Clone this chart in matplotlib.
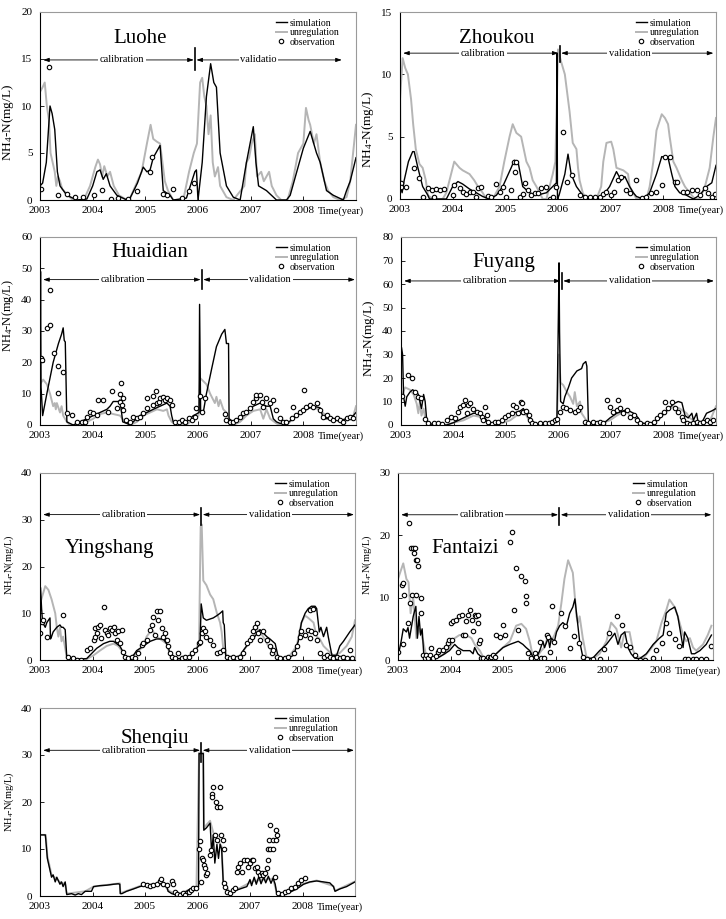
import numpy as np
import matplotlib
matplotlib.use("Agg")
import matplotlib.pyplot as plt

plt.rcParams["font.family"] = ["Liberation Serif", "DejaVu Serif"]
plt.rcParams["mathtext.default"] = "regular"

YEARS = [2003, 2004, 2005, 2006, 2007, 2008]

# ---- Luohe ----
luohe_sim = [(2003.0, 1.5), (2003.05, 1.8), (2003.12, 4.0), (2003.19, 10.0), (2003.23, 9.2), (2003.28, 7.5),
             (2003.33, 3.0), (2003.38, 1.5), (2003.51, 0.5), (2003.70, 0.0), (2003.89, 0.1), (2004.0, 1.5),
             (2004.08, 3.0), (2004.14, 3.2), (2004.2, 2.2), (2004.26, 2.8), (2004.33, 1.5), (2004.46, 0.5),
             (2004.65, 0.0), (2004.71, 0.2), (2004.85, 1.8), (2004.96, 3.5), (2005.03, 3.0), (2005.09, 3.2),
             (2005.15, 4.5), (2005.28, 5.8), (2005.34, 1.0), (2005.47, 0.5), (2005.53, 0.0), (2005.78, 0.2),
             (2005.94, 3.0), (2005.97, 3.2), (2006.0, 0.0), (2006.08, 4.0), (2006.16, 11.0), (2006.24, 14.5),
             (2006.3, 12.5), (2006.35, 12.0), (2006.42, 5.0), (2006.54, 1.5), (2006.67, 0.3), (2006.80, 0.0),
             (2006.92, 4.0), (2007.05, 7.8), (2007.1, 4.0), (2007.15, 1.5), (2007.30, 1.0), (2007.49, 0.0),
             (2007.68, 0.0), (2007.75, 0.5), (2007.9, 3.5), (2008.0, 5.5), (2008.13, 7.3), (2008.25, 5.0),
             (2008.32, 4.0), (2008.44, 1.0), (2008.57, 0.5), (2008.76, 0.0), (2008.82, 1.0), (2008.89, 2.0),
             (2009.0, 4.5)]
luohe_unreg = [(2003.0, 11.5), (2003.05, 12.0), (2003.09, 12.5), (2003.13, 10.0), (2003.17, 8.5), (2003.2, 5.0),
               (2003.28, 3.0), (2003.31, 1.5), (2003.34, 2.5), (2003.38, 2.0), (2003.42, 1.2), (2003.48, 0.8),
               (2003.62, 0.0), (2003.83, 0.0), (2003.95, 1.5), (2004.05, 3.5), (2004.1, 4.3), (2004.14, 3.8),
               (2004.18, 2.5), (2004.22, 3.6), (2004.28, 2.5), (2004.33, 3.0), (2004.4, 1.5), (2004.5, 0.5),
               (2004.65, 0.0), (2004.71, 0.2), (2004.85, 2.0), (2004.93, 3.0), (2005.03, 6.0), (2005.1, 8.0),
               (2005.15, 6.5), (2005.22, 6.2), (2005.28, 6.0), (2005.37, 2.0), (2005.43, 1.0), (2005.53, 0.0),
               (2005.72, 0.0), (2005.83, 3.0), (2005.92, 5.0), (2005.98, 6.0), (2006.04, 12.5), (2006.08, 13.0),
               (2006.12, 11.0), (2006.16, 10.0), (2006.2, 7.0), (2006.24, 9.0), (2006.28, 4.0), (2006.32, 2.5),
               (2006.38, 3.5), (2006.42, 1.5), (2006.54, 0.3), (2006.67, 0.0), (2006.88, 1.5), (2006.92, 4.0),
               (2006.97, 4.5), (2007.02, 6.0), (2007.08, 7.0), (2007.12, 2.5), (2007.2, 3.0), (2007.25, 2.0),
               (2007.35, 3.0), (2007.4, 1.5), (2007.49, 0.5), (2007.58, 0.0), (2007.7, 0.0), (2007.8, 2.0),
               (2007.9, 5.0), (2008.0, 6.0), (2008.05, 9.8), (2008.1, 8.5), (2008.13, 8.0), (2008.2, 6.0),
               (2008.25, 7.0), (2008.32, 4.0), (2008.4, 2.0), (2008.47, 1.0), (2008.57, 0.3), (2008.7, 0.0),
               (2008.82, 0.3), (2008.89, 2.0), (2009.0, 8.0)]
luohe_obs = [(2003.02, 1.2), (2003.18, 14.1), (2003.35, 0.5), (2003.51, 0.6), (2003.66, 0.3), (2003.82, 0.3),
             (2004.03, 0.5), (2004.17, 1.1), (2004.35, 0.1), (2004.49, 0.2), (2004.68, 0.1), (2004.84, 1.0),
             (2005.09, 3.0), (2005.12, 4.6), (2005.34, 0.6), (2005.41, 0.5), (2005.53, 1.2), (2005.69, 0.2),
             (2005.82, 1.0), (2005.93, 1.8)]

# ---- Zhoukou ----
zhoukou_sim = [(2003.0, 0.0), (2003.005, 11.5), (2003.01, 1.0), (2003.04, 0.5), (2003.08, 1.5), (2003.16, 3.0),
               (2003.24, 3.8), (2003.27, 3.8), (2003.34, 2.5), (2003.43, 1.0), (2003.53, 0.3), (2003.56, 0.0),
               (2003.88, 0.0), (2004.0, 1.0), (2004.10, 1.4), (2004.19, 1.2), (2004.32, 0.8), (2004.45, 0.5),
               (2004.57, 0.2), (2004.70, 0.0), (2004.83, 0.3), (2004.95, 1.0), (2005.11, 2.5), (2005.17, 3.1),
               (2005.24, 3.0), (2005.33, 1.0), (2005.46, 0.5), (2005.59, 0.3), (2005.78, 0.5), (2005.90, 1.0),
               (2005.97, 1.3), (2005.98, 11.7), (2005.99, 0.0), (2006.02, 0.3), (2006.13, 2.0), (2006.19, 3.6),
               (2006.25, 2.0), (2006.35, 1.0), (2006.47, 0.3), (2006.60, 0.1), (2006.73, 0.0), (2006.86, 0.3),
               (2006.98, 1.0), (2007.11, 2.2), (2007.20, 1.5), (2007.27, 1.8), (2007.36, 1.0), (2007.43, 0.5),
               (2007.49, 0.2), (2007.62, 0.0), (2007.74, 0.5), (2007.87, 2.0), (2007.97, 3.4), (2008.09, 3.3),
               (2008.16, 2.0), (2008.22, 1.0), (2008.31, 0.5), (2008.44, 0.3), (2008.57, 0.0), (2008.69, 0.3),
               (2008.82, 1.0), (2008.92, 1.3), (2009.0, 2.7)]
zhoukou_unreg = [(2003.0, 8.0), (2003.05, 11.3), (2003.1, 10.5), (2003.15, 10.0), (2003.21, 8.0), (2003.25, 6.0),
                 (2003.30, 4.0), (2003.37, 2.8), (2003.43, 2.5), (2003.49, 1.5), (2003.53, 0.3), (2003.62, 0.0),
                 (2003.81, 0.0), (2003.88, 0.5), (2003.97, 2.0), (2004.03, 3.0), (2004.13, 2.5), (2004.19, 2.3),
                 (2004.32, 2.0), (2004.41, 1.5), (2004.48, 1.0), (2004.57, 0.5), (2004.64, 0.0), (2004.76, 0.0),
                 (2004.89, 1.0), (2004.98, 3.0), (2005.08, 5.0), (2005.14, 6.0), (2005.21, 5.3), (2005.30, 5.0),
                 (2005.40, 3.0), (2005.46, 2.5), (2005.52, 1.5), (2005.59, 1.0), (2005.65, 0.5), (2005.71, 0.0),
                 (2005.78, 0.0), (2005.84, 1.0), (2005.90, 2.0), (2005.95, 3.0), (2006.0, 12.0), (2006.06, 11.0),
                 (2006.13, 10.0), (2006.19, 8.0), (2006.22, 7.0), (2006.28, 4.5), (2006.35, 4.0), (2006.38, 2.5),
                 (2006.41, 1.5), (2006.47, 0.5), (2006.54, 0.0), (2006.73, 0.0), (2006.82, 1.0), (2006.86, 3.0),
                 (2006.92, 4.5), (2007.01, 4.6), (2007.05, 4.0), (2007.11, 2.5), (2007.24, 2.3), (2007.33, 2.0),
                 (2007.36, 1.0), (2007.43, 0.5), (2007.49, 0.0), (2007.68, 0.0), (2007.74, 1.0), (2007.81, 3.0),
                 (2007.87, 5.5), (2007.97, 6.8), (2008.03, 6.5), (2008.09, 6.0), (2008.12, 5.0), (2008.19, 3.0),
                 (2008.25, 2.5), (2008.35, 1.5), (2008.41, 1.0), (2008.50, 0.5), (2008.60, 0.0), (2008.69, 0.0),
                 (2008.79, 1.0), (2008.88, 2.5), (2008.95, 5.0), (2009.0, 6.5)]
zhoukou_obs = [(2003.01, 1.3), (2003.02, 1.0), (2003.11, 1.0), (2003.27, 2.5), (2003.36, 1.7), (2003.43, 0.2),
               (2003.53, 0.9), (2003.61, 0.7), (2003.65, 0.2), (2003.68, 0.8), (2003.76, 0.75), (2003.84, 0.8),
               (2004.0, 0.35), (2004.03, 1.15), (2004.13, 0.9), (2004.19, 0.55), (2004.26, 0.4), (2004.32, 0.6),
               (2004.38, 0.55), (2004.45, 0.2), (2004.48, 0.9), (2004.54, 1.0), (2004.67, 0.25), (2004.73, 0.2),
               (2004.83, 1.2), (2004.89, 0.6), (2004.95, 1.0), (2005.02, 0.2), (2005.11, 0.75), (2005.16, 3.0),
               (2005.18, 2.2), (2005.21, 3.0), (2005.27, 0.2), (2005.33, 0.4), (2005.38, 1.3), (2005.43, 0.75),
               (2005.49, 0.35), (2005.56, 0.5), (2005.62, 0.5), (2005.68, 0.9), (2005.78, 0.95), (2005.84, 0.0),
               (2005.90, 0.2), (2005.96, 1.0), (2006.09, 5.4), (2006.18, 1.4), (2006.27, 1.9), (2006.41, 0.35),
               (2006.51, 0.2), (2006.60, 0.2), (2006.70, 0.2), (2006.79, 0.2), (2006.86, 0.4), (2006.92, 0.6),
               (2007.0, 0.35), (2007.06, 0.55), (2007.13, 1.5), (2007.19, 1.8), (2007.30, 0.75), (2007.36, 0.5),
               (2007.49, 1.55), (2007.60, 0.1), (2007.68, 0.2), (2007.77, 0.5), (2007.87, 0.6), (2007.97, 1.15),
               (2008.03, 3.4), (2008.12, 3.4), (2008.22, 1.4), (2008.26, 1.4), (2008.38, 0.6), (2008.44, 0.6),
               (2008.54, 0.7), (2008.63, 0.7), (2008.69, 0.35), (2008.79, 0.9), (2008.85, 0.5), (2008.92, 0.2),
               (2008.98, 0.4)]

# ---- Huaidian ----
huaidian_sim = [(2003.0, 10.0), (2003.01, 49.0), (2003.02, 12.0), (2003.05, 3.0), (2003.13, 10.0), (2003.25, 20.0),
                (2003.35, 26.0), (2003.41, 29.0), (2003.44, 31.0), (2003.46, 27.0), (2003.48, 26.5), (2003.51, 1.0),
                (2003.57, 0.5), (2003.63, 0.0), (2003.76, 1.0), (2003.89, 2.0), (2004.01, 3.0), (2004.14, 4.0),
                (2004.27, 5.0), (2004.33, 6.0), (2004.39, 7.5), (2004.49, 7.5), (2004.52, 8.0), (2004.57, 1.0),
                (2004.65, 0.5), (2004.71, 0.0), (2004.77, 1.0), (2004.90, 3.0), (2005.03, 4.0), (2005.15, 5.0),
                (2005.28, 6.0), (2005.41, 7.0), (2005.47, 6.0), (2005.50, 3.0), (2005.53, 1.0), (2005.66, 0.5),
                (2005.78, 1.0), (2005.85, 2.0), (2005.91, 3.0), (2005.97, 3.5), (2006.02, 4.0), (2006.03, 38.5),
                (2006.05, 4.0), (2006.10, 4.0), (2006.16, 10.0), (2006.26, 18.0), (2006.35, 25.0), (2006.45, 29.0),
                (2006.51, 30.5), (2006.54, 26.0), (2006.58, 26.0), (2006.59, 2.0), (2006.67, 1.0), (2006.80, 2.0),
                (2006.92, 4.0), (2007.05, 6.0), (2007.18, 7.0), (2007.30, 6.0), (2007.37, 6.0), (2007.43, 2.0),
                (2007.49, 1.0), (2007.56, 0.5), (2007.68, 0.5), (2007.81, 2.0), (2007.94, 4.0), (2008.06, 5.0),
                (2008.19, 6.0), (2008.32, 5.5), (2008.38, 2.0), (2008.57, 2.0), (2008.70, 1.5), (2008.82, 2.0),
                (2008.95, 3.0), (2009.0, 4.0)]
huaidian_unreg = [(2003.0, 13.0), (2003.06, 14.5), (2003.13, 13.0), (2003.19, 10.0), (2003.25, 6.0), (2003.28, 7.0),
                  (2003.30, 5.0), (2003.32, 7.0), (2003.38, 4.0), (2003.41, 6.0), (2003.44, 3.0), (2003.51, 1.0),
                  (2003.57, 0.0), (2003.70, 0.0), (2003.89, 1.0), (2004.01, 2.0), (2004.14, 3.5), (2004.27, 4.0),
                  (2004.39, 3.5), (2004.52, 3.0), (2004.61, 1.0), (2004.71, 0.0), (2004.84, 1.0), (2004.96, 3.0),
                  (2005.09, 4.0), (2005.22, 5.0), (2005.34, 4.5), (2005.41, 5.0), (2005.44, 3.0), (2005.50, 1.0),
                  (2005.59, 0.0), (2005.78, 0.0), (2005.85, 1.0), (2005.91, 2.0), (2006.01, 3.0), (2006.04, 15.0),
                  (2006.10, 14.0), (2006.16, 13.0), (2006.23, 10.0), (2006.29, 8.0), (2006.32, 7.0), (2006.35, 9.0),
                  (2006.39, 6.0), (2006.42, 8.0), (2006.48, 5.0), (2006.54, 4.0), (2006.61, 1.0), (2006.67, 0.0),
                  (2006.80, 1.0), (2006.92, 3.0), (2007.05, 4.5), (2007.18, 5.0), (2007.24, 2.0), (2007.30, 5.0),
                  (2007.37, 2.0), (2007.49, 0.5), (2007.56, 0.0), (2007.68, 0.0), (2007.81, 2.0), (2007.94, 4.0),
                  (2008.06, 5.0), (2008.19, 6.0), (2008.32, 4.5), (2008.44, 3.0), (2008.57, 2.0), (2008.70, 1.0),
                  (2008.82, 1.5), (2008.95, 3.0), (2009.0, 6.0)]
huaidian_obs = [(2003.01, 21.3), (2003.03, 20.6), (2003.13, 30.9), (2003.19, 32.0), (2003.19, 43.2), (2003.27, 23.1),
                (2003.35, 18.7), (2003.35, 10.1), (2003.44, 16.8), (2003.51, 3.7), (2003.60, 3.2), (2003.70, 1.0),
                (2003.79, 1.0), (2003.85, 1.0), (2003.89, 2.7), (2003.95, 4.3), (2004.01, 3.7), (2004.08, 3.2),
                (2004.11, 8.0), (2004.20, 8.0), (2004.30, 4.3), (2004.36, 11.0), (2004.46, 5.5), (2004.52, 7.5),
                (2004.52, 10.0), (2004.53, 13.3), (2004.55, 6.4), (2004.58, 8.5), (2004.58, 4.8), (2004.63, 1.6),
                (2004.71, 1.0), (2004.77, 2.7), (2004.84, 2.1), (2004.90, 2.7), (2004.96, 3.7), (2005.03, 5.3),
                (2005.03, 8.7), (2005.15, 9.3), (2005.20, 11.0), (2005.15, 6.4), (2005.22, 7.0), (2005.25, 7.5),
                (2005.28, 8.5), (2005.34, 9.0), (2005.37, 8.0), (2005.41, 8.5), (2005.47, 8.0), (2005.50, 6.4),
                (2005.56, 1.0), (2005.63, 1.0), (2005.69, 1.6), (2005.75, 1.0), (2005.82, 2.1), (2005.88, 1.6),
                (2005.94, 2.7), (2005.97, 5.3), (2006.03, 9.3), (2006.07, 4.3), (2006.13, 8.5), (2006.51, 3.5),
                (2006.54, 1.6), (2006.61, 1.0), (2006.67, 1.0), (2006.73, 1.6), (2006.80, 2.7), (2006.86, 3.7),
                (2006.92, 4.3), (2006.99, 5.3), (2007.05, 7.5), (2007.11, 8.5), (2007.11, 9.6), (2007.18, 9.6),
                (2007.21, 7.5), (2007.24, 5.9), (2007.30, 8.5), (2007.37, 7.0), (2007.43, 8.0), (2007.49, 4.8),
                (2007.56, 2.1), (2007.62, 1.0), (2007.68, 1.0), (2007.78, 2.1), (2007.81, 5.9), (2007.87, 3.2),
                (2007.94, 4.3), (2008.0, 4.8), (2008.01, 11.2), (2008.06, 5.9), (2008.13, 6.4), (2008.19, 5.9),
                (2008.25, 7.0), (2008.32, 4.8), (2008.38, 2.7), (2008.44, 3.2), (2008.51, 2.1), (2008.57, 1.6),
                (2008.63, 2.1), (2008.70, 1.6), (2008.76, 1.0), (2008.82, 2.1), (2008.89, 2.7), (2008.95, 2.1)]

# ---- Fuyang ----
fuyang_sim = [(2003.0, 30.0), (2003.01, 33.0), (2003.03, 30.0), (2003.05, 12.0), (2003.08, 8.0), (2003.11, 12.0),
              (2003.17, 14.0), (2003.22, 15.0), (2003.30, 14.0), (2003.33, 13.0), (2003.36, 10.0), (2003.39, 7.0),
              (2003.43, 13.0), (2003.46, 10.0), (2003.49, 2.0), (2003.55, 0.5), (2003.68, 0.0), (2003.87, 0.0),
              (2004.0, 1.0), (2004.19, 3.0), (2004.38, 5.0), (2004.50, 5.0), (2004.60, 3.0), (2004.66, 1.0),
              (2004.70, 0.0), (2004.82, 0.0), (2004.89, 1.0), (2005.01, 3.0), (2005.14, 5.0), (2005.27, 6.0),
              (2005.33, 7.0), (2005.39, 5.0), (2005.49, 1.0), (2005.58, 0.0), (2005.84, 0.0), (2005.90, 1.0),
              (2005.97, 2.0), (2006.0, 50.0), (2006.01, 69.0), (2006.02, 40.0), (2006.04, 10.0), (2006.09, 9.0),
              (2006.12, 12.0), (2006.19, 16.0), (2006.25, 20.0), (2006.35, 23.0), (2006.44, 24.0), (2006.47, 26.0),
              (2006.52, 27.0), (2006.54, 25.0), (2006.57, 1.0), (2006.66, 0.5), (2006.85, 0.5), (2006.98, 3.0),
              (2007.11, 5.0), (2007.23, 6.0), (2007.30, 6.5), (2007.43, 5.0), (2007.52, 3.0), (2007.55, 1.0),
              (2007.68, 0.5), (2007.81, 1.0), (2007.93, 3.0), (2008.06, 6.0), (2008.19, 9.0), (2008.28, 10.0),
              (2008.35, 9.5), (2008.41, 4.0), (2008.47, 3.0), (2008.54, 5.0), (2008.57, 2.0), (2008.63, 5.0),
              (2008.66, 1.0), (2008.73, 1.0), (2008.82, 5.0), (2008.92, 6.0), (2009.0, 7.0)]
fuyang_unreg = [(2003.0, 12.0), (2003.08, 16.0), (2003.17, 15.0), (2003.24, 13.0), (2003.30, 9.0), (2003.33, 5.0),
                (2003.36, 10.0), (2003.39, 4.0), (2003.43, 7.0), (2003.46, 3.0), (2003.52, 1.0), (2003.62, 0.0),
                (2003.87, 0.0), (2004.0, 1.0), (2004.19, 2.0), (2004.38, 4.0), (2004.50, 3.5), (2004.60, 2.0),
                (2004.70, 0.5), (2004.76, 0.0), (2004.82, 0.0), (2004.95, 1.0), (2005.08, 2.0), (2005.20, 4.0),
                (2005.33, 5.0), (2005.39, 4.0), (2005.46, 1.0), (2005.52, 0.0), (2005.84, 0.0), (2005.90, 1.0),
                (2005.97, 2.0), (2006.01, 30.0), (2006.04, 18.0), (2006.09, 17.0), (2006.16, 14.0), (2006.22, 12.0),
                (2006.28, 9.0), (2006.31, 14.0), (2006.35, 8.0), (2006.41, 10.0), (2006.44, 5.0), (2006.50, 3.0),
                (2006.57, 0.5), (2006.73, 0.0), (2006.98, 2.0), (2007.11, 4.0), (2007.23, 5.5), (2007.30, 6.0),
                (2007.36, 4.0), (2007.46, 3.0), (2007.52, 1.0), (2007.68, 0.5), (2007.81, 1.0), (2007.93, 3.0),
                (2008.06, 6.0), (2008.19, 8.0), (2008.31, 7.0), (2008.44, 5.0), (2008.50, 3.0), (2008.63, 1.0),
                (2008.89, 2.0), (2009.0, 8.0)]
fuyang_obs = [(2003.01, 12.3), (2003.14, 21.2), (2003.20, 19.8), (2003.27, 14.2), (2003.33, 12.0), (2003.39, 11.3),
              (2003.46, 2.5), (2003.52, 0.7), (2003.62, 1.0), (2003.71, 0.7), (2003.79, 0.4), (2003.87, 2.1),
              (2003.95, 3.3), (2004.03, 2.8), (2004.09, 5.7), (2004.12, 7.8), (2004.19, 8.5), (2004.22, 10.6),
              (2004.25, 5.0), (2004.28, 8.5), (2004.31, 9.2), (2004.38, 7.0), (2004.44, 5.7), (2004.50, 5.0),
              (2004.54, 3.5), (2004.57, 2.1), (2004.60, 7.8), (2004.63, 4.2), (2004.66, 1.4), (2004.73, 0.4),
              (2004.79, 1.4), (2004.85, 1.4), (2004.92, 2.1), (2004.98, 3.5), (2005.04, 4.2), (2005.11, 5.0),
              (2005.14, 8.5), (2005.19, 7.8), (2005.23, 5.0), (2005.29, 9.9), (2005.30, 9.2), (2005.33, 5.7),
              (2005.39, 6.1), (2005.43, 4.2), (2005.46, 2.1), (2005.49, 1.0), (2005.55, 0.4), (2005.65, 0.7),
              (2005.74, 0.7), (2005.81, 1.0), (2005.87, 1.4), (2005.93, 2.1), (2005.98, 2.5), (2006.03, 5.7),
              (2006.09, 7.8), (2006.14, 7.1), (2006.22, 6.4), (2006.31, 5.7), (2006.38, 6.4), (2006.41, 7.8),
              (2006.50, 1.4), (2006.57, 0.7), (2006.66, 1.4), (2006.73, 1.0), (2006.79, 1.4), (2006.85, 1.0),
              (2006.92, 10.5), (2006.98, 7.8), (2007.04, 5.7), (2007.11, 6.4), (2007.14, 10.6), (2007.17, 7.1),
              (2007.23, 5.0), (2007.30, 6.4), (2007.36, 3.5), (2007.43, 4.2), (2007.49, 2.1), (2007.55, 1.0),
              (2007.68, 0.7), (2007.74, 0.4), (2007.81, 1.4), (2007.87, 2.8), (2007.93, 4.2), (2008.0, 5.7),
              (2008.03, 9.9), (2008.09, 7.1), (2008.16, 9.9), (2008.22, 7.1), (2008.28, 5.7), (2008.35, 3.5),
              (2008.38, 2.1), (2008.44, 0.7), (2008.50, 0.4), (2008.57, 1.0), (2008.63, 1.4), (2008.70, 0.7),
              (2008.76, 1.4), (2008.82, 2.1), (2008.89, 1.4), (2008.95, 2.1)]

# ---- Yingshang ----
yingshang_sim = [(2003.0, 9.0), (2003.01, 15.5), (2003.03, 11.0), (2003.05, 8.0), (2003.10, 7.0), (2003.13, 8.0),
                 (2003.19, 9.0), (2003.2, 4.5), (2003.22, 5.0), (2003.25, 6.0), (2003.32, 7.0), (2003.38, 7.5),
                 (2003.41, 7.0), (2003.44, 7.0), (2003.48, 6.5), (2003.51, 0.5), (2003.57, 0.3), (2003.76, 0.2),
                 (2003.89, 0.3), (2003.95, 1.0), (2004.08, 2.5), (2004.21, 3.5), (2004.33, 4.0), (2004.40, 4.0),
                 (2004.46, 3.5), (2004.52, 3.0), (2004.57, 2.0), (2004.62, 0.5), (2004.71, 0.5), (2004.78, 1.0),
                 (2004.84, 2.0), (2004.97, 3.0), (2005.10, 4.0), (2005.22, 4.5), (2005.35, 4.5), (2005.44, 3.0),
                 (2005.48, 1.0), (2005.54, 0.3), (2005.73, 0.3), (2005.86, 1.0), (2005.95, 2.0), (2006.02, 3.0),
                 (2006.05, 4.0), (2006.07, 12.0), (2006.11, 9.0), (2006.17, 8.5), (2006.30, 9.0), (2006.37, 9.5),
                 (2006.43, 10.0), (2006.48, 10.5), (2006.49, 8.0), (2006.51, 7.5), (2006.54, 0.5), (2006.68, 0.3),
                 (2006.81, 0.5), (2006.87, 2.0), (2007.0, 4.0), (2007.13, 5.5), (2007.19, 6.5), (2007.32, 5.0),
                 (2007.38, 4.5), (2007.48, 3.5), (2007.54, 0.5), (2007.70, 0.3), (2007.83, 1.0), (2007.92, 4.0),
                 (2007.98, 8.0), (2008.05, 10.0), (2008.11, 11.0), (2008.17, 11.5), (2008.24, 11.5), (2008.27, 11.0),
                 (2008.32, 6.0), (2008.35, 7.0), (2008.40, 5.0), (2008.46, 7.0), (2008.49, 5.0), (2008.56, 1.0),
                 (2008.65, 1.0), (2008.71, 3.0), (2008.78, 4.0), (2008.84, 5.0), (2008.90, 6.0), (2009.0, 7.5)]
yingshang_unreg = [(2003.0, 12.0), (2003.10, 15.8), (2003.16, 15.0), (2003.22, 13.0), (2003.29, 10.0), (2003.32, 7.0),
                   (2003.35, 5.0), (2003.38, 7.0), (2003.41, 4.0), (2003.44, 5.0), (2003.48, 2.5), (2003.51, 0.5),
                   (2003.63, 0.2), (2003.89, 0.2), (2004.02, 1.0), (2004.14, 2.0), (2004.27, 3.0), (2004.40, 3.5),
                   (2004.49, 3.0), (2004.59, 1.5), (2004.65, 0.5), (2004.71, 0.5), (2004.84, 1.5), (2004.97, 3.0),
                   (2005.03, 5.0), (2005.13, 6.5), (2005.22, 5.0), (2005.35, 4.0), (2005.41, 3.5), (2005.48, 1.0),
                   (2005.54, 0.0), (2005.79, 0.3), (2005.89, 1.0), (2005.98, 2.5), (2006.03, 4.0), (2006.06, 28.5),
                   (2006.08, 29.0), (2006.11, 17.0), (2006.17, 16.0), (2006.24, 14.0), (2006.30, 13.0), (2006.37, 10.0),
                   (2006.43, 8.0), (2006.46, 6.0), (2006.49, 2.5), (2006.56, 0.5), (2006.68, 0.3), (2006.81, 1.0),
                   (2006.94, 3.0), (2007.06, 5.0), (2007.16, 6.5), (2007.25, 5.0), (2007.35, 3.0), (2007.44, 1.5),
                   (2007.54, 0.5), (2007.63, 0.3), (2007.76, 1.0), (2007.89, 3.0), (2007.98, 8.0), (2008.05, 9.5),
                   (2008.11, 9.0), (2008.21, 8.0), (2008.27, 5.0), (2008.33, 4.5), (2008.40, 3.0), (2008.49, 2.0),
                   (2008.59, 1.0), (2008.71, 1.5), (2008.84, 3.0), (2008.94, 5.0), (2009.0, 8.5)]
yingshang_obs = [(2003.0, 5.7), (2003.03, 8.2), (2003.05, 8.6), (2003.13, 5.0), (2003.44, 9.6), (2003.54, 0.7),
                 (2003.63, 0.4), (2003.71, 0.1), (2003.79, 0.1), (2003.89, 2.1), (2003.95, 2.5), (2004.02, 4.3),
                 (2004.05, 5.0), (2004.05, 6.8), (2004.08, 5.7), (2004.11, 7.1), (2004.14, 7.5), (2004.17, 4.6),
                 (2004.21, 11.4), (2004.24, 6.4), (2004.27, 5.7), (2004.30, 5.4), (2004.33, 6.8), (2004.37, 6.4),
                 (2004.40, 7.1), (2004.43, 5.7), (2004.46, 4.3), (2004.49, 6.1), (2004.52, 3.6), (2004.56, 6.4),
                 (2004.59, 1.8), (2004.62, 0.7), (2004.68, 0.4), (2004.75, 0.7), (2004.81, 0.4), (2004.87, 1.4),
                 (2004.94, 3.2), (2004.97, 3.6), (2005.03, 4.3), (2005.10, 6.4), (2005.13, 7.5), (2005.16, 9.3),
                 (2005.19, 5.4), (2005.22, 10.4), (2005.25, 8.6), (2005.29, 10.4), (2005.32, 6.8), (2005.35, 5.0),
                 (2005.38, 5.7), (2005.41, 4.3), (2005.44, 2.9), (2005.48, 1.4), (2005.51, 0.7), (2005.57, 0.4),
                 (2005.63, 1.4), (2005.70, 0.4), (2005.76, 0.7), (2005.83, 0.7), (2005.89, 1.4), (2005.95, 2.1),
                 (2006.02, 3.6), (2006.05, 3.9), (2006.08, 5.7), (2006.11, 6.8), (2006.14, 6.1), (2006.17, 5.0),
                 (2006.24, 4.3), (2006.30, 3.2), (2006.37, 1.4), (2006.43, 1.8), (2006.49, 2.1), (2006.56, 0.7),
                 (2006.62, 0.4), (2006.68, 0.7), (2006.75, 0.4), (2006.81, 0.7), (2006.87, 1.4), (2006.94, 3.6),
                 (2007.0, 4.3), (2007.03, 5.0), (2007.06, 6.1), (2007.10, 7.1), (2007.13, 7.9), (2007.16, 5.7),
                 (2007.19, 4.3), (2007.25, 6.1), (2007.32, 4.3), (2007.38, 2.9), (2007.41, 1.4), (2007.44, 2.1),
                 (2007.51, 0.7), (2007.57, 0.4), (2007.67, 0.4), (2007.73, 0.7), (2007.83, 1.4), (2007.89, 2.9),
                 (2007.95, 5.0), (2007.98, 6.1), (2008.05, 5.4), (2008.11, 6.4), (2008.14, 4.6), (2008.17, 6.1),
                 (2008.14, 10.7), (2008.20, 11.0), (2008.24, 5.7), (2008.27, 4.3), (2008.33, 1.4), (2008.40, 0.7),
                 (2008.46, 1.1), (2008.52, 0.7), (2008.59, 0.4), (2008.65, 0.7), (2008.71, 0.4), (2008.78, 0.7),
                 (2008.84, 0.4), (2008.90, 2.1), (2008.94, 0.4)]

# ---- Fantaizi ----
fantaizi_sim = [(2003.0, 0.5), (2003.06, 3.0), (2003.10, 5.0), (2003.16, 4.5), (2003.19, 5.2), (2003.22, 3.5),
                (2003.29, 7.0), (2003.34, 8.6), (2003.37, 3.5), (2003.40, 7.0), (2003.43, 4.0), (2003.46, 5.0),
                (2003.49, 1.0), (2003.54, 0.3), (2003.60, 0.3), (2003.70, 0.3), (2003.79, 0.5), (2003.89, 1.0),
                (2003.98, 1.5), (2004.08, 2.5), (2004.14, 2.0), (2004.24, 1.5), (2004.37, 1.5), (2004.43, 1.0),
                (2004.46, 2.0), (2004.52, 1.0), (2004.59, 0.5), (2004.65, 0.2), (2004.75, 0.3), (2004.87, 1.0),
                (2005.0, 2.0), (2005.13, 2.5), (2005.29, 3.0), (2005.38, 2.5), (2005.44, 2.0), (2005.51, 1.5),
                (2005.57, 0.5), (2005.63, 0.3), (2005.70, 1.5), (2005.76, 3.0), (2005.79, 2.0), (2005.86, 3.5),
                (2005.89, 2.0), (2005.92, 3.5), (2005.98, 3.0), (2006.02, 4.5), (2006.08, 5.5), (2006.14, 6.0),
                (2006.21, 5.5), (2006.27, 7.5), (2006.33, 8.5), (2006.37, 9.8), (2006.40, 7.5), (2006.46, 3.0),
                (2006.52, 0.5), (2006.59, 0.2), (2006.71, 0.3), (2006.84, 1.5), (2006.97, 2.5), (2007.06, 3.5),
                (2007.13, 4.3), (2007.19, 2.5), (2007.25, 4.0), (2007.32, 4.5), (2007.38, 2.0), (2007.44, 1.0),
                (2007.51, 0.3), (2007.60, 0.2), (2007.73, 1.0), (2007.86, 2.5), (2007.98, 3.5), (2008.05, 4.0),
                (2008.11, 7.5), (2008.17, 8.0), (2008.27, 8.5), (2008.33, 7.0), (2008.40, 3.5), (2008.43, 2.0),
                (2008.46, 4.5), (2008.52, 3.5), (2008.59, 1.0), (2008.65, 1.0), (2008.75, 1.5), (2008.87, 2.5),
                (2008.97, 4.0)]
fantaizi_unreg = [(2003.0, 13.0), (2003.10, 15.5), (2003.16, 13.0), (2003.20, 12.5), (2003.24, 7.5), (2003.29, 10.0),
                  (2003.35, 3.5), (2003.41, 5.0), (2003.48, 3.0), (2003.54, 0.5), (2003.67, 0.3), (2003.79, 0.5),
                  (2003.89, 1.0), (2003.98, 2.0), (2004.08, 3.5), (2004.17, 4.0), (2004.30, 4.0), (2004.40, 3.5),
                  (2004.46, 2.5), (2004.56, 1.5), (2004.62, 0.5), (2004.75, 0.2), (2004.87, 1.0), (2005.0, 2.0),
                  (2005.13, 3.0), (2005.25, 5.5), (2005.35, 5.8), (2005.44, 5.0), (2005.51, 3.0), (2005.57, 0.5),
                  (2005.63, 0.3), (2005.73, 1.5), (2005.79, 2.0), (2005.86, 4.0), (2005.92, 3.0), (2005.98, 4.0),
                  (2006.05, 5.5), (2006.11, 9.0), (2006.17, 13.0), (2006.24, 16.0), (2006.33, 14.0), (2006.40, 7.0),
                  (2006.43, 6.0), (2006.46, 7.0), (2006.52, 3.5), (2006.59, 0.5), (2006.71, 0.2), (2006.84, 1.0),
                  (2006.97, 3.0), (2007.06, 6.0), (2007.16, 5.0), (2007.22, 3.0), (2007.25, 2.0), (2007.32, 4.5),
                  (2007.41, 4.5), (2007.48, 1.5), (2007.54, 0.5), (2007.67, 0.3), (2007.79, 1.5), (2007.92, 3.0),
                  (2008.02, 6.0), (2008.11, 8.0), (2008.17, 9.7), (2008.27, 8.5), (2008.33, 7.0), (2008.43, 4.0),
                  (2008.49, 3.0), (2008.56, 3.5), (2008.62, 2.0), (2008.68, 1.5), (2008.81, 2.5), (2008.90, 4.0),
                  (2008.97, 5.5)]
fantaizi_obs = [(2003.0, 1.3), (2003.08, 12.1), (2003.10, 12.4), (2003.11, 10.4), (2003.09, 2.6), (2003.19, 6.0),
                (2003.20, 22.0), (2003.23, 9.2), (2003.25, 18.0), (2003.27, 10.4), (2003.29, 18.0), (2003.30, 17.1),
                (2003.32, 18.0), (2003.34, 16.0), (2003.35, 10.4), (2003.36, 16.0), (2003.38, 15.1), (2003.43, 7.5),
                (2003.44, 10.0), (2003.47, 0.8), (2003.51, 0.3), (2003.54, 0.8), (2003.57, 0.3), (2003.60, 0.8),
                (2003.63, 1.9), (2003.67, 0.3), (2003.72, 0.6), (2003.76, 1.3), (2003.79, 1.6), (2003.86, 1.6),
                (2003.91, 2.1), (2003.95, 2.7), (2003.97, 3.2), (2004.0, 5.9), (2004.02, 3.2), (2004.05, 6.2),
                (2004.11, 6.4), (2004.14, 1.3), (2004.17, 7.1), (2004.21, 7.2), (2004.24, 4.0), (2004.27, 4.0),
                (2004.30, 6.2), (2004.33, 7.2), (2004.37, 8.0), (2004.40, 6.4), (2004.42, 4.6), (2004.46, 7.2),
                (2004.49, 7.0), (2004.52, 5.9), (2004.53, 7.2), (2004.55, 2.8), (2004.57, 3.2), (2004.59, 0.3),
                (2004.62, 0.3), (2004.68, 0.0), (2004.71, 0.5), (2004.75, 0.3), (2004.78, 0.5), (2004.81, 0.8),
                (2004.84, 0.5), (2004.87, 4.0), (2004.94, 3.7), (2005.0, 5.6), (2005.03, 4.0), (2005.13, 19.0),
                (2005.17, 20.6), (2005.20, 8.0), (2005.25, 14.7), (2005.29, 4.8), (2005.35, 13.4), (2005.41, 12.6),
                (2005.43, 10.2), (2005.44, 9.1), (2005.48, 1.2), (2005.54, 0.3), (2005.60, 1.1), (2005.63, 0.5),
                (2005.70, 2.9), (2005.73, 0.3), (2005.79, 0.3), (2005.83, 4.0), (2005.86, 3.7), (2005.89, 1.3),
                (2005.93, 8.7), (2005.98, 2.9), (2006.11, 7.6), (2006.19, 5.5), (2006.27, 1.9), (2006.35, 3.9),
                (2006.44, 2.8), (2006.52, 0.5), (2006.60, 0.2), (2006.71, 0.2), (2006.85, 0.1), (2006.92, 1.7),
                (2007.02, 4.3), (2007.17, 7.1), (2007.26, 5.6), (2007.35, 2.4), (2007.41, 2.1), (2007.51, 0.8),
                (2007.60, 0.0), (2007.70, 0.0), (2007.86, 0.3), (2007.92, 1.6), (2008.02, 2.7), (2008.10, 5.9),
                (2008.17, 4.4), (2008.27, 3.3), (2008.35, 2.2), (2008.46, 0.1), (2008.52, 0.1), (2008.62, 0.1),
                (2008.68, 0.1), (2008.78, 0.1), (2008.87, 0.1), (2008.97, 2.2)]

# ---- Shenqiu ----
shenqiu_sim = [(2003.0, 13.0), (2003.10, 13.0), (2003.11, 12.0), (2003.14, 8.0), (2003.18, 6.0), (2003.22, 4.0),
               (2003.25, 4.5), (2003.29, 3.0), (2003.32, 4.0), (2003.38, 2.5), (2003.41, 3.0), (2003.44, 2.0),
               (2003.48, 3.0), (2003.51, 0.3), (2003.60, 0.5), (2003.67, 0.2), (2003.73, 0.5), (2003.79, 0.3),
               (2003.86, 1.0), (2003.98, 1.0), (2004.02, 2.0), (2004.14, 2.2), (2004.27, 2.3), (2004.40, 2.5),
               (2004.49, 2.6), (2004.52, 2.5), (2004.53, 0.5), (2004.56, 0.5), (2004.65, 1.0), (2004.78, 1.5),
               (2004.90, 2.0), (2005.03, 2.3), (2005.16, 2.5), (2005.29, 2.6), (2005.35, 2.5), (2005.41, 2.3),
               (2005.44, 1.0), (2005.51, 0.5), (2005.60, 0.2), (2005.73, 0.5), (2005.79, 1.0), (2005.86, 1.5),
               (2005.98, 1.8), (2006.02, 2.0), (2006.03, 30.3), (2006.11, 30.3), (2006.12, 14.0), (2006.17, 14.5),
               (2006.24, 15.5), (2006.27, 9.0), (2006.30, 13.0), (2006.33, 7.0), (2006.37, 11.0), (2006.40, 8.0),
               (2006.43, 11.0), (2006.46, 10.0), (2006.49, 3.0), (2006.56, 1.0), (2006.62, 0.5), (2006.68, 1.0),
               (2006.81, 1.5), (2006.94, 2.0), (2007.0, 3.5), (2007.03, 2.2), (2007.08, 4.0), (2007.12, 2.5),
               (2007.17, 4.2), (2007.21, 2.6), (2007.26, 4.0), (2007.30, 2.8), (2007.35, 4.2), (2007.40, 2.7),
               (2007.44, 3.8), (2007.48, 2.5), (2007.51, 0.5), (2007.63, 0.3), (2007.76, 0.8), (2007.89, 1.5),
               (2008.02, 2.5), (2008.14, 3.0), (2008.27, 3.2), (2008.40, 3.0), (2008.52, 2.8), (2008.59, 2.0),
               (2008.62, 1.0), (2008.71, 1.5), (2008.84, 2.0), (2009.0, 3.0)]
shenqiu_unreg = [(2003.0, 13.0), (2003.11, 13.0), (2003.14, 8.5), (2003.22, 4.5), (2003.38, 3.0), (2003.48, 2.5),
                 (2003.51, 0.5), (2003.86, 1.0), (2004.02, 2.0), (2004.52, 2.7), (2004.53, 0.6), (2004.90, 2.1),
                 (2005.35, 2.7), (2005.44, 1.2), (2005.60, 0.3), (2005.98, 1.9), (2006.03, 30.5), (2006.11, 30.5),
                 (2006.12, 14.5), (2006.24, 16.0), (2006.30, 13.5), (2006.46, 10.5), (2006.49, 3.2), (2006.62, 0.6),
                 (2007.06, 3.2), (2007.44, 3.7), (2007.51, 0.6), (2007.63, 0.4), (2008.02, 2.6), (2008.27, 3.3),
                 (2008.59, 2.1), (2008.62, 1.1), (2009.0, 3.1)]
shenqiu_obs = [(2004.97, 2.6), (2005.03, 2.3), (2005.10, 2.1), (2005.16, 2.3), (2005.22, 2.6), (2005.29, 3.1),
               (2005.30, 3.6), (2005.35, 2.6), (2005.41, 2.3), (2005.51, 3.1), (2005.54, 2.6), (2005.57, 0.9),
               (2005.60, 0.4), (2005.67, 0.2), (2005.72, 0.6), (2005.76, 0.2), (2005.83, 0.9), (2005.87, 1.3),
               (2005.92, 1.8), (2005.98, 1.8), (2006.02, 9.9), (2006.05, 11.6), (2006.06, 3.0), (2006.08, 8.0),
               (2006.11, 7.7), (2006.12, 6.6), (2006.14, 5.9), (2006.16, 4.5), (2006.19, 4.8), (2006.23, 8.7),
               (2006.25, 9.8), (2006.27, 21.8), (2006.28, 21.0), (2006.30, 23.1), (2006.33, 13.0), (2006.35, 20.1),
               (2006.37, 11.9), (2006.38, 19.0), (2006.42, 19.0), (2006.43, 23.1), (2006.44, 13.0), (2006.48, 11.9),
               (2006.50, 10.1), (2006.51, 2.7), (2006.52, 2.0), (2006.56, 0.9), (2006.62, 0.7), (2006.68, 1.3),
               (2006.71, 1.6), (2006.75, 5.2), (2006.78, 6.2), (2006.81, 7.0), (2006.84, 5.2), (2006.89, 7.7),
               (2006.94, 7.7), (2006.97, 6.2), (2007.0, 7.0), (2007.03, 7.7), (2007.06, 7.7), (2007.10, 5.9),
               (2007.13, 6.2), (2007.16, 5.2), (2007.19, 4.5), (2007.22, 4.8), (2007.25, 4.5), (2007.29, 4.8),
               (2007.32, 5.9), (2007.34, 7.7), (2007.35, 10.1), (2007.37, 11.9), (2007.38, 15.1), (2007.39, 9.9),
               (2007.43, 9.9), (2007.44, 11.9), (2007.48, 4.1), (2007.50, 11.9), (2007.50, 14.0), (2007.51, 13.0),
               (2007.54, 0.7), (2007.60, 0.5), (2007.67, 0.9), (2007.73, 1.1), (2007.79, 1.6), (2007.86, 2.0),
               (2007.92, 2.7), (2007.98, 3.4), (2008.05, 3.8)]

# panels: name, data, y max, y step, box in pixels (left, top, right, bottom)
panels = [
    dict(name="Luohe", sim=luohe_sim, unreg=luohe_unreg, obs=luohe_obs, ymax=20, step=5,
         box=(40, 12, 356, 200), title=(2004.9, 17.2), arrow_y=14.9, div=(2005.94, 13.8, 16.2),
         cal_x=2004.55, val_x=2007.15, val_text="validatio", val_end=2008.73, ylab=(0.41, 9.5)),
    dict(name="Zhoukou", sim=zhoukou_sim, unreg=zhoukou_unreg, obs=zhoukou_obs, ymax=15, step=5,
         box=(400, 12, 716, 199), title=(2004.83, 12.9), arrow_y=11.7, div=(2006.03, 11.0, 12.3),
         cal_x=2004.57, val_x=2007.36, val_text="validation", val_end=2008.95, ylab=(0.37, 9.5)),
    dict(name="Huaidian", sim=huaidian_sim, unreg=huaidian_unreg, obs=huaidian_obs, ymax=60, step=10,
         box=(40, 237, 356, 425), title=(2005.09, 54.9), arrow_y=46.4, div=(2006.07, 43.5, 49.4),
         cal_x=2004.58, val_x=2007.37, val_text="validation", val_end=2008.98, ylab=(0.58, 9)),
    dict(name="Fuyang", sim=fuyang_sim, unreg=fuyang_unreg, obs=fuyang_obs, ymax=80, step=10,
         box=(401, 237, 716, 425), title=(2004.96, 69.0), arrow_y=61.3, div=(2006.06, 58.0, 64.7),
         cal_x=2004.6, val_x=2007.36, val_text="validation", val_end=2008.96, ylab=(0.46, 9.5)),
    dict(name="Yingshang", sim=yingshang_sim, unreg=yingshang_unreg, obs=yingshang_obs, ymax=40, step=10,
         box=(40, 473, 355, 660), title=(2004.33, 23.9), arrow_y=31.1, div=(2006.07, 28.9, 32.5),
         cal_x=2004.59, val_x=2007.38, val_text="validation", val_end=2008.98, ylab=(0.51, 7.5)),
    dict(name="Fantaizi", sim=fantaizi_sim, unreg=fantaizi_unreg, obs=fantaizi_obs, ymax=30, step=10,
         box=(398, 473, 713, 660), title=(2004.27, 17.9), arrow_y=23.3, div=(2006.07, 21.7, 24.4),
         cal_x=2004.59, val_x=2007.39, val_text="validation", val_end=2008.97, ylab=(0.51, 7.5)),
    dict(name="Shenqiu", sim=shenqiu_sim, unreg=shenqiu_unreg, obs=shenqiu_obs, ymax=40, step=10,
         box=(40, 708, 355, 896), title=(2005.19, 33.6), arrow_y=31.0, div=(2006.07, 28.5, 32.5),
         cal_x=2004.59, val_x=2007.38, val_text="validation", val_end=2008.98, ylab=(0.5, 7.5)),
]

W, H = 726, 919
fig = plt.figure(figsize=(W / 100, H / 100), dpi=100)

arrow_kw = dict(arrowstyle="<|-|>,head_length=0.35,head_width=0.12", lw=0.6, color="black",
                shrinkA=0, shrinkB=0)

for p in panels:
    l, t, r, b = p["box"]
    ax = fig.add_axes([l / W, 1 - b / H, (r - l) / W, (b - t) / H])
    sim = np.array(p["sim"])
    unr = np.array(p["unreg"])
    obs = np.array(p["obs"])
    h_unr, = ax.plot(unr[:, 0], unr[:, 1], color="#b5b5b5", lw=1.4)
    h_sim, = ax.plot(sim[:, 0], sim[:, 1], color="black", lw=1.0)
    h_obs, = ax.plot(obs[:, 0], obs[:, 1], "o", mfc="white", mec="black", ms=3.2, mew=0.8)

    ax.set_xlim(2003, 2009)
    ax.set_ylim(0, p["ymax"])
    ax.set_xticks(YEARS)
    ax.set_yticks(np.arange(0, p["ymax"] + 1, p["step"]))
    ax.tick_params(direction="in", length=3, width=0.6, labelsize=8)
    ax.tick_params(axis="x", pad=4.5)
    ax.tick_params(axis="y", pad=5.5)
    for s in ("left", "bottom"):
        ax.spines[s].set_color("black")
        ax.spines[s].set_linewidth(0.8)
    for s in ("top", "right"):
        ax.spines[s].set_color("#9a9a9a")
        ax.spines[s].set_linewidth(0.8)

    ax.text(2008.28, -0.062, "Time(year)", transform=ax.get_xaxis_transform(),
            ha="left", va="center", fontsize=7.5)
    ax.set_ylabel("NH$_4$-N(mg/L)", fontsize=p["ylab"][1])
    ax.yaxis.set_label_coords(-0.075, p["ylab"][0])

    ax.text(p["title"][0], p["title"][1], p["name"], fontsize=15, ha="center", va="center")

    ya = p["arrow_y"]
    xd, d0, d1 = p["div"]
    ax.annotate("", xy=(2003.06, ya), xytext=(xd - 0.02, ya), arrowprops=arrow_kw)
    ax.annotate("", xy=(xd + 0.03, ya), xytext=(p["val_end"], ya), arrowprops=arrow_kw)
    ax.plot([xd, xd], [d0, d1], color="black", lw=1.2)
    box = dict(fc="white", ec="none", pad=1.2)
    ax.text(p["cal_x"], ya, "calibration", ha="center", va="center", fontsize=7.5, bbox=box, zorder=5)
    ax.text(p["val_x"], ya, p["val_text"], ha="center", va="center", fontsize=7.5, bbox=box, zorder=5)

    ax.legend([h_sim, h_unr, h_obs], ["simulation", "unregulation", "observation"],
              loc="upper right", bbox_to_anchor=(0.96, 0.985), frameon=False, fontsize=7,
              handlelength=1.1, handletextpad=0.3, labelspacing=0.05, borderaxespad=0.2,
              borderpad=0.2)

fig.savefig("out.png", dpi=100)
